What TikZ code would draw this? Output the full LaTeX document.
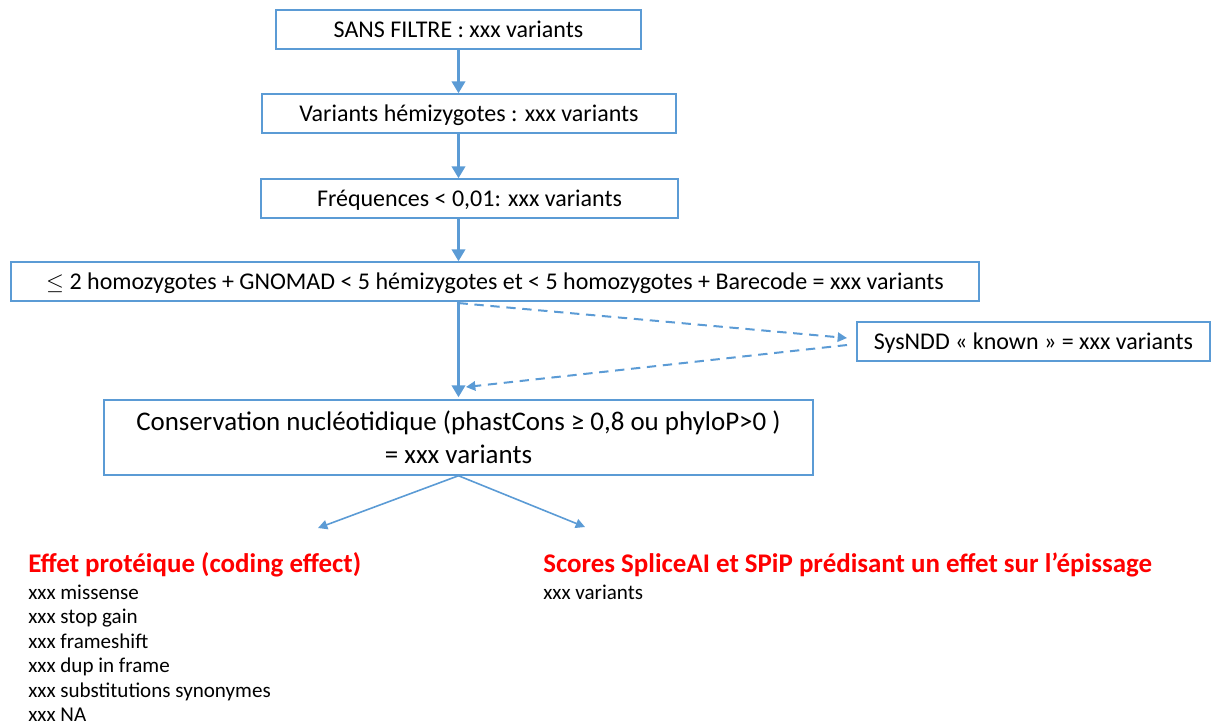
\documentclass[tikz,border=0pt]{standalone}
\usepackage{fontspec}
\setmainfont{Carlito}
\usepackage{amssymb}
\usetikzlibrary{arrows.meta}
\definecolor{obl}{HTML}{5B9BD5}
\definecolor{ored}{HTML}{FF0000}
\begin{document}
\begin{tikzpicture}[x=0.75pt,y=-0.75pt,
  box/.style={draw=obl,line width=1.1pt,inner sep=0pt,fill=white},
  btxt/.style={font=\fontsize{18pt}{22pt}\selectfont,text height=14pt,text depth=2pt},
  thickarr/.style={draw=obl,line width=2.6pt,-{Triangle[length=9pt,width=10pt]}},
  dasharr/.style={draw=obl,line width=1.5pt,dash pattern=on 7pt off 5pt,-{Triangle[length=7pt,width=7pt]}},
  thinarr/.style={draw=obl,line width=1.2pt,-{Triangle[length=7pt,width=7pt]}},
  head/.style={anchor=base west,inner sep=0pt,text=ored,font=\fontsize{20.2pt}{24pt}\selectfont\bfseries},
  item/.style={anchor=base west,inner sep=0pt,font=\fontsize{15.8pt}{18pt}\selectfont}]
\useasboundingbox (0,0) rectangle (1213,726);
\node[box,btxt,minimum width=365*0.75pt,minimum height=39*0.75pt] (b1) at (458.5,29.5) {SANS FILTRE : xxx variants};
\node[box,btxt,minimum width=414*0.75pt,minimum height=39*0.75pt] (b2) at (469,113.5) {Variants hémizygotes : xxx variants};
\node[box,btxt,minimum width=417*0.75pt,minimum height=39*0.75pt] (b3) at (469.5,198.5) {Fréquences < 0,01: xxx variants};
\node[box,btxt,minimum width=968*0.75pt,minimum height=39*0.75pt] (b4) at (495,281.5) {$\leq$ 2 homozygotes + GNOMAD < 5 hémizygotes et < 5 homozygotes + Barecode = xxx variants};
\node[box,btxt,minimum width=353*0.75pt,minimum height=39*0.75pt] (b5) at (1033.5,341.5) {SysNDD « known » = xxx variants};
\node[box,font=\fontsize{20.2pt}{24.75pt}\selectfont,align=center,minimum width=709*0.75pt,minimum height=75*0.75pt] (b6) at (458.5,437.5) {Conservation nucléotidique (phastCons ≥ 0,8 ou phyloP>0 )\\= xxx variants};
\coordinate (d1) at (847,338);
\coordinate (d2) at (847,345);
\coordinate (d3) at (466,387);
\coordinate (f1) at (318,528);
\coordinate (f2) at (585,527);
\draw[thickarr] (b1.south) -- (b2.north -| b1.south);
\draw[thickarr] (b2.south -| b1.south) -- (b3.north -| b1.south);
\draw[thickarr] (b3.south -| b1.south) -- (b4.north -| b1.south);
\draw[thickarr] (b4.south -| b1.south) -- ([yshift=1.5pt]b6.north -| b1.south);
\draw[dasharr] ([yshift=-1pt]b4.south -| b1.south) -- (d1);
\draw[dasharr] (d2) -- (d3);
\draw[thinarr] (b6.south) -- (f1);
\draw[thinarr] (b6.south) -- (f2);
\node[head] (h1) at (28,572) {Effet protéique (coding effect)};
\node[item] (i1) at (28,599) {xxx missense};
\node[item] (i2) at (28,623.5) {xxx stop gain};
\node[item] (i3) at (28,648) {xxx frameshift};
\node[item] (i4) at (28,672.5) {xxx dup in frame};
\node[item] (i5) at (28,697) {xxx substitutions synonymes};
\node[item] (i6) at (28,721.5) {xxx NA};
\node[head] (h2) at (543,572) {Scores SpliceAI et SPiP prédisant un effet sur l’épissage};
\node[item] (j1) at (543,599) {xxx variants};
\end{tikzpicture}
\end{document}
